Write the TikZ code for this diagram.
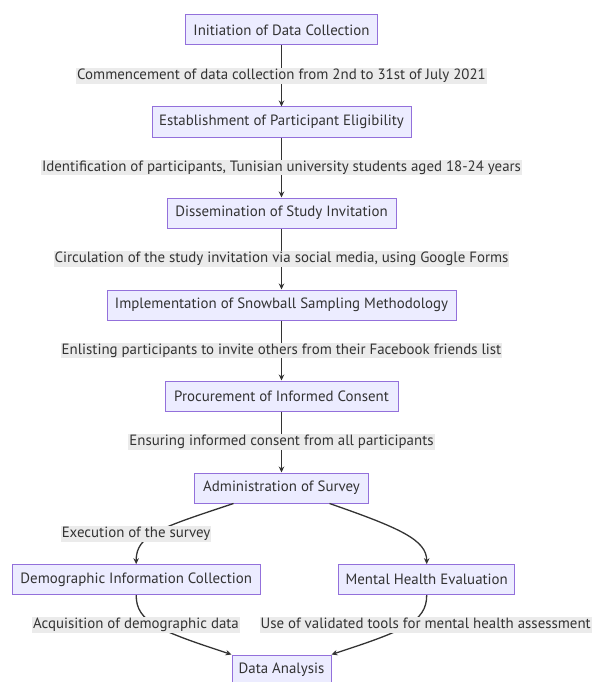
\documentclass[tikz,border=0pt]{standalone}
\usepackage{fontspec}
\setmainfont{PT Sans}
\usetikzlibrary{arrows.meta, positioning}
\definecolor{cbox}{HTML}{ECECFF}
\definecolor{cline}{HTML}{9370DB}
\definecolor{ctext}{HTML}{333333}
\definecolor{clbl}{HTML}{EBEBEB}
\tikzset{
  every picture/.style={font=\fontsize{14.9}{17}\selectfont, line width=1pt},
  box/.style={draw=cline, fill=cbox, text=ctext, minimum height=30pt, inner sep=0pt},
  lbl/.style={fill=clbl, text=ctext, inner xsep=1pt, inner ysep=1pt, text height=10.5pt, text depth=3pt},
  arrow/.style={-{Stealth[length=6pt, width=5.5pt]}, draw=ctext, line width=1.3pt},
}

\begin{document}
\begin{tikzpicture}[x=1pt, y=-1pt]
  \useasboundingbox (0,0) rectangle (593,682);
  % main column
  \foreach \n/\y/\w/\t in {n1/30/192/Initiation of Data Collection, n2/122/259/Establishment of Participant Eligibility,
                           n3/213/229/Dissemination of Study Invitation, n4/305/349/Implementation of Snowball Sampling Methodology,
                           n5/396/233/Procurement of Informed Consent, n6/488/174/Administration of Survey}
    \node[box, minimum width=\w pt] (\n) at (281.5, \y) {\t};
  \node[box, minimum width=248pt] (demo) at (136.2, 579.7) {Demographic Information Collection};
  \node[box, minimum width=176pt] (mental) at (426.7, 579.7) {Mental Health Evaluation};
  \node[box, minimum width=99pt] (analysis) at (281.5, 670) {Data Analysis};
  % straight edges
  \foreach \a/\b/\t in {n1/n2/{Commencement of data collection from 2nd to 31st of July 2021},
                        n2/n3/{Identification of participants, Tunisian university students aged 18-24 years},
                        n3/n4/{Circulation of the study invitation via social media, using Google Forms},
                        n4/n5/{Enlisting participants to invite others from their Facebook friends list},
                        n5/n6/{Ensuring informed consent from all participants}}
    \draw[arrow] (\a) -- node[lbl] {\t} (\b);
  % branches
  \draw[arrow] ([xshift=-48pt]n6.south) .. controls (160, 528) and (136, 535) .. (demo.north)
    node[lbl] (l6) at (136, 534) {Execution of the survey};
  \draw[arrow] ([xshift=48pt]n6.south) .. controls (400, 528) and (426.7, 540) .. (mental.north);
  \draw[arrow] (demo.south) .. controls (136, 622) and (160, 631) .. (analysis.north west)
    node[lbl] (l7) at (136, 625) {Acquisition of demographic data};
  \draw[arrow] (mental.south) .. controls (426.7, 622) and (403, 631) .. (analysis.north east)
    node[lbl] (l8) at (425.7, 625) {Use of validated tools for mental health assessment};
\end{tikzpicture}
\end{document}
